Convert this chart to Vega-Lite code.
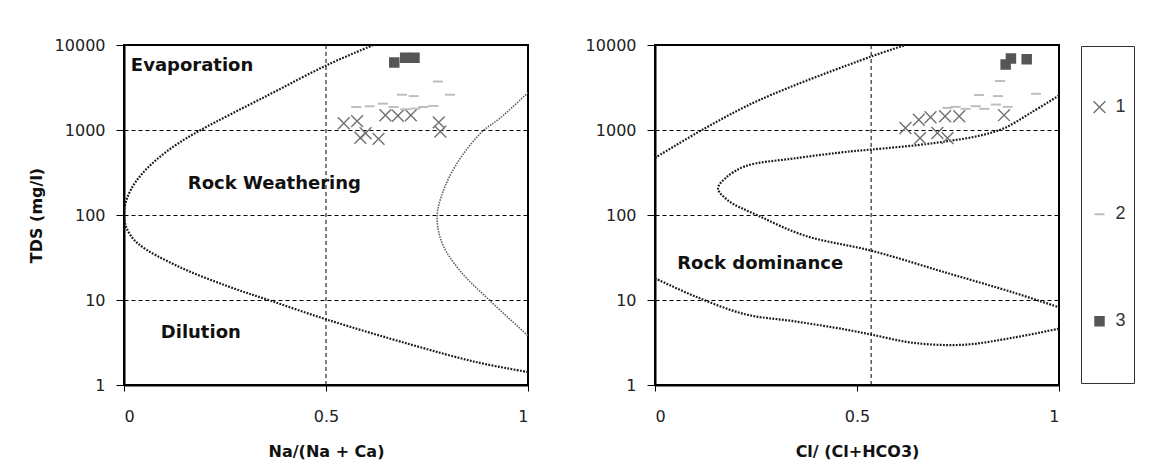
{
  "$schema": "https://vega.github.io/schema/vega-lite/v6.json",
  "padding": {"left": 27, "top": 36, "right": 5, "bottom": 5},
  "background": "white",
  "bounds": "flush",
  "spacing": 127,
  "config": {
    "view": {"stroke": "black", "strokeWidth": 2},
    "axis": {"domainColor": "black", "domainWidth": 2, "tickColor": "black", "tickWidth": 1, "labelFont": "DejaVu Sans", "labelFontSize": 16, "labelColor": "#222", "titleFont": "DejaVu Sans", "titleFontSize": 16, "titleFontWeight": "bold", "titleColor": "#111", "gridColor": "black", "gridDash": [4, 3], "gridWidth": 1, "gridOpacity": 1},
    "axisY": {"tickSize": 8, "labelPadding": 11, "titlePadding": 10},
    "axisX": {"tickSize": 6, "labelPadding": 17, "titlePadding": 19},
    "legend": {"orient": "none", "legendX": 957, "legendY": 1, "padding": 8, "clipHeight": 106.3, "rowPadding": 0, "symbolOffset": 1.5, "labelOffset": 7, "labelExpr": "datum.label + '   '", "strokeColor": "#333", "labelFont": "Liberation Sans", "labelFontSize": 18, "labelColor": "#333"}
  },
  "datasets": {
    "samples": [
      {"panel": "Na", "x": 0.544, "tds": 1200, "type": "1"},
      {"panel": "Na", "x": 0.577, "tds": 1270, "type": "1"},
      {"panel": "Na", "x": 0.598, "tds": 915, "type": "1"},
      {"panel": "Na", "x": 0.585, "tds": 810, "type": "1"},
      {"panel": "Na", "x": 0.63, "tds": 785, "type": "1"},
      {"panel": "Na", "x": 0.647, "tds": 1490, "type": "1"},
      {"panel": "Na", "x": 0.678, "tds": 1470, "type": "1"},
      {"panel": "Na", "x": 0.71, "tds": 1490, "type": "1"},
      {"panel": "Na", "x": 0.779, "tds": 1230, "type": "1"},
      {"panel": "Na", "x": 0.783, "tds": 955, "type": "1"},
      {"panel": "Na", "x": 0.575, "tds": 1865, "type": "2"},
      {"panel": "Na", "x": 0.608, "tds": 1900, "type": "2"},
      {"panel": "Na", "x": 0.641, "tds": 2040, "type": "2"},
      {"panel": "Na", "x": 0.667, "tds": 1865, "type": "2"},
      {"panel": "Na", "x": 0.688, "tds": 2600, "type": "2"},
      {"panel": "Na", "x": 0.717, "tds": 2505, "type": "2"},
      {"panel": "Na", "x": 0.696, "tds": 1755, "type": "2"},
      {"panel": "Na", "x": 0.721, "tds": 1787, "type": "2"},
      {"panel": "Na", "x": 0.741, "tds": 1865, "type": "2"},
      {"panel": "Na", "x": 0.766, "tds": 1920, "type": "2"},
      {"panel": "Na", "x": 0.777, "tds": 3715, "type": "2"},
      {"panel": "Na", "x": 0.807, "tds": 2600, "type": "2"},
      {"panel": "Na", "x": 0.669, "tds": 6220, "type": "3"},
      {"panel": "Na", "x": 0.696, "tds": 7060, "type": "3"},
      {"panel": "Na", "x": 0.719, "tds": 7060, "type": "3"},
      {"panel": "Cl", "x": 0.62, "tds": 1055, "type": "1"},
      {"panel": "Cl", "x": 0.656, "tds": 804, "type": "1"},
      {"panel": "Cl", "x": 0.682, "tds": 1413, "type": "1"},
      {"panel": "Cl", "x": 0.718, "tds": 1452, "type": "1"},
      {"panel": "Cl", "x": 0.753, "tds": 1452, "type": "1"},
      {"panel": "Cl", "x": 0.724, "tds": 804, "type": "1"},
      {"panel": "Cl", "x": 0.864, "tds": 1493, "type": "1"},
      {"panel": "Cl", "x": 0.653, "tds": 1320, "type": "1"},
      {"panel": "Cl", "x": 0.699, "tds": 922, "type": "1"},
      {"panel": "Cl", "x": 0.802, "tds": 2580, "type": "2"},
      {"panel": "Cl", "x": 0.849, "tds": 2505, "type": "2"},
      {"panel": "Cl", "x": 0.854, "tds": 3770, "type": "2"},
      {"panel": "Cl", "x": 0.943, "tds": 2667, "type": "2"},
      {"panel": "Cl", "x": 0.724, "tds": 1820, "type": "2"},
      {"panel": "Cl", "x": 0.744, "tds": 1872, "type": "2"},
      {"panel": "Cl", "x": 0.769, "tds": 1773, "type": "2"},
      {"panel": "Cl", "x": 0.794, "tds": 1906, "type": "2"},
      {"panel": "Cl", "x": 0.815, "tds": 1773, "type": "2"},
      {"panel": "Cl", "x": 0.844, "tds": 1993, "type": "2"},
      {"panel": "Cl", "x": 0.873, "tds": 1872, "type": "2"},
      {"panel": "Cl", "x": 0.868, "tds": 5880, "type": "3"},
      {"panel": "Cl", "x": 0.881, "tds": 6920, "type": "3"},
      {"panel": "Cl", "x": 0.92, "tds": 6800, "type": "3"}
    ],
    "curves": [
      {"panel": "Na", "curve": "A", "seq": 1, "x": 0.617, "tds": 10000},
      {"panel": "Na", "curve": "A", "seq": 2, "x": 0.504, "tds": 5850},
      {"panel": "Na", "curve": "A", "seq": 3, "x": 0.356, "tds": 2560},
      {"panel": "Na", "curve": "A", "seq": 4, "x": 0.19, "tds": 1000},
      {"panel": "Na", "curve": "A", "seq": 5, "x": 0.129, "tds": 670},
      {"panel": "Na", "curve": "A", "seq": 6, "x": 0.0805, "tds": 448},
      {"panel": "Na", "curve": "A", "seq": 7, "x": 0.0432, "tds": 300},
      {"panel": "Na", "curve": "A", "seq": 8, "x": 0.0173, "tds": 200},
      {"panel": "Na", "curve": "A", "seq": 9, "x": 0.0032, "tds": 134},
      {"panel": "Na", "curve": "A", "seq": 10, "x": 0.0, "tds": 100},
      {"panel": "Na", "curve": "A", "seq": 11, "x": 0.007, "tds": 69},
      {"panel": "Na", "curve": "A", "seq": 12, "x": 0.035, "tds": 46},
      {"panel": "Na", "curve": "A", "seq": 13, "x": 0.133, "tds": 25},
      {"panel": "Na", "curve": "A", "seq": 14, "x": 0.257, "tds": 14.5},
      {"panel": "Na", "curve": "A", "seq": 15, "x": 0.363, "tds": 9.8},
      {"panel": "Na", "curve": "A", "seq": 16, "x": 0.504, "tds": 5.85},
      {"panel": "Na", "curve": "A", "seq": 17, "x": 0.709, "tds": 3.0},
      {"panel": "Na", "curve": "A", "seq": 18, "x": 0.874, "tds": 1.85},
      {"panel": "Na", "curve": "A", "seq": 19, "x": 1.0, "tds": 1.42},
      {"panel": "Na", "curve": "B", "seq": 1, "x": 1.0, "tds": 2750},
      {"panel": "Na", "curve": "B", "seq": 2, "x": 0.931, "tds": 1380},
      {"panel": "Na", "curve": "B", "seq": 3, "x": 0.886, "tds": 950},
      {"panel": "Na", "curve": "B", "seq": 4, "x": 0.827, "tds": 425},
      {"panel": "Na", "curve": "B", "seq": 5, "x": 0.79, "tds": 190},
      {"panel": "Na", "curve": "B", "seq": 6, "x": 0.775, "tds": 95},
      {"panel": "Na", "curve": "B", "seq": 7, "x": 0.788, "tds": 46},
      {"panel": "Na", "curve": "B", "seq": 8, "x": 0.832, "tds": 22},
      {"panel": "Na", "curve": "B", "seq": 9, "x": 0.906, "tds": 9.8},
      {"panel": "Na", "curve": "B", "seq": 10, "x": 1.0, "tds": 3.8},
      {"panel": "Cl", "curve": "C", "seq": 1, "x": 0.0, "tds": 470},
      {"panel": "Cl", "curve": "C", "seq": 2, "x": 0.124, "tds": 1050},
      {"panel": "Cl", "curve": "C", "seq": 3, "x": 0.26, "tds": 2270},
      {"panel": "Cl", "curve": "C", "seq": 4, "x": 0.536, "tds": 7350},
      {"panel": "Cl", "curve": "C", "seq": 5, "x": 0.62, "tds": 10000},
      {"panel": "Cl", "curve": "D", "seq": 1, "x": 1.0, "tds": 2550},
      {"panel": "Cl", "curve": "D", "seq": 2, "x": 0.93, "tds": 1590},
      {"panel": "Cl", "curve": "D", "seq": 3, "x": 0.864, "tds": 1050},
      {"panel": "Cl", "curve": "D", "seq": 4, "x": 0.8, "tds": 850},
      {"panel": "Cl", "curve": "D", "seq": 5, "x": 0.725, "tds": 740},
      {"panel": "Cl", "curve": "D", "seq": 6, "x": 0.65, "tds": 665},
      {"panel": "Cl", "curve": "D", "seq": 7, "x": 0.538, "tds": 590},
      {"panel": "Cl", "curve": "D", "seq": 8, "x": 0.484, "tds": 560},
      {"panel": "Cl", "curve": "D", "seq": 9, "x": 0.347, "tds": 465},
      {"panel": "Cl", "curve": "D", "seq": 10, "x": 0.223, "tds": 374},
      {"panel": "Cl", "curve": "D", "seq": 11, "x": 0.174, "tds": 270},
      {"panel": "Cl", "curve": "D", "seq": 12, "x": 0.156, "tds": 205},
      {"panel": "Cl", "curve": "D", "seq": 13, "x": 0.181, "tds": 148},
      {"panel": "Cl", "curve": "D", "seq": 14, "x": 0.256, "tds": 98},
      {"panel": "Cl", "curve": "D", "seq": 15, "x": 0.372, "tds": 57},
      {"panel": "Cl", "curve": "D", "seq": 16, "x": 0.538, "tds": 37.8},
      {"panel": "Cl", "curve": "D", "seq": 17, "x": 0.72, "tds": 21},
      {"panel": "Cl", "curve": "D", "seq": 18, "x": 0.886, "tds": 12.3},
      {"panel": "Cl", "curve": "D", "seq": 19, "x": 1.0, "tds": 8.2},
      {"panel": "Cl", "curve": "E", "seq": 1, "x": 0.0, "tds": 18},
      {"panel": "Cl", "curve": "E", "seq": 2, "x": 0.1, "tds": 11},
      {"panel": "Cl", "curve": "E", "seq": 3, "x": 0.223, "tds": 6.8},
      {"panel": "Cl", "curve": "E", "seq": 4, "x": 0.347, "tds": 5.6},
      {"panel": "Cl", "curve": "E", "seq": 5, "x": 0.471, "tds": 4.5},
      {"panel": "Cl", "curve": "E", "seq": 6, "x": 0.538, "tds": 3.9},
      {"panel": "Cl", "curve": "E", "seq": 7, "x": 0.638, "tds": 3.14},
      {"panel": "Cl", "curve": "E", "seq": 8, "x": 0.762, "tds": 2.97},
      {"panel": "Cl", "curve": "E", "seq": 9, "x": 0.886, "tds": 3.6},
      {"panel": "Cl", "curve": "E", "seq": 10, "x": 1.0, "tds": 4.6}
    ],
    "labels": [
      {"panel": "Na", "x": 0.017, "tds": 5650, "text": "Evaporation"},
      {"panel": "Na", "x": 0.158, "tds": 234, "text": "Rock Weathering"},
      {"panel": "Na", "x": 0.091, "tds": 4.13, "text": "Dilution"},
      {"panel": "Cl", "x": 0.055, "tds": 26.7, "text": "Rock dominance"}
    ],
    "vgrid": [
      {"panel": "Na", "x": 0.5},
      {"panel": "Cl", "x": 0.535}
    ]
  },
  "hconcat": [
    {
      "width": 404,
      "height": 340,
      "layer": [
        {
          "data": {"name": "vgrid"},
          "transform": [{"filter": "datum.panel === 'Na'"}],
          "mark": {"type": "rule", "color": "black", "strokeWidth": 1, "strokeDash": [4, 3]},
          "encoding": {
            "x": {"field": "x", "type": "quantitative", "scale": {"domain": [0, 1], "nice": false, "zero": false}, "axis": {"values": [0, 0.5, 1], "format": "~g", "title": "Na/(Na + Ca)", "grid": false}}
          }
        },
        {
          "data": {"name": "curves"},
          "transform": [{"filter": "datum.panel === 'Na' && datum.curve === 'A'"}],
          "mark": {"type": "line", "interpolate": "catmull-rom", "color": "#1a1a1a", "strokeWidth": 2.2, "strokeDash": [1.8, 1.4], "clip": true},
          "encoding": {
            "x": {"field": "x", "type": "quantitative", "scale": {"domain": [0, 1], "nice": false, "zero": false}, "axis": {"values": [0, 0.5, 1], "format": "~g", "title": "Na/(Na + Ca)", "grid": false}},
            "y": {"field": "tds", "type": "quantitative", "scale": {"type": "log", "domain": [1, 10000], "nice": false}, "axis": {"values": [1, 10, 100, 1000, 10000], "format": "d", "title": "TDS (mg/l)", "grid": true}},
            "detail": {"field": "curve"},
            "order": {"field": "seq", "type": "quantitative"}
          }
        },
        {
          "data": {"name": "curves"},
          "transform": [{"filter": "datum.panel === 'Na' && datum.curve === 'B'"}],
          "mark": {"type": "line", "interpolate": "catmull-rom", "color": "#606060", "strokeWidth": 1.6, "strokeDash": [1.5, 1.2], "clip": true},
          "encoding": {
            "x": {"field": "x", "type": "quantitative", "scale": {"domain": [0, 1], "nice": false, "zero": false}, "axis": {"values": [0, 0.5, 1], "format": "~g", "title": "Na/(Na + Ca)", "grid": false}},
            "y": {"field": "tds", "type": "quantitative", "scale": {"type": "log", "domain": [1, 10000], "nice": false}, "axis": {"values": [1, 10, 100, 1000, 10000], "format": "d", "title": "TDS (mg/l)", "grid": true}},
            "detail": {"field": "curve"},
            "order": {"field": "seq", "type": "quantitative"}
          }
        },
        {
          "data": {"name": "samples"},
          "transform": [{"filter": "datum.panel === 'Na'"}],
          "mark": {"type": "point", "filled": true, "opacity": 1},
          "encoding": {
            "x": {"field": "x", "type": "quantitative", "scale": {"domain": [0, 1], "nice": false, "zero": false}, "axis": {"values": [0, 0.5, 1], "format": "~g", "title": "Na/(Na + Ca)", "grid": false}},
            "y": {"field": "tds", "type": "quantitative", "scale": {"type": "log", "domain": [1, 10000], "nice": false}, "axis": {"values": [1, 10, 100, 1000, 10000], "format": "d", "title": "TDS (mg/l)", "grid": true}},
            "shape": {"field": "type", "type": "nominal", "title": null, "scale": {"domain": ["1", "2", "3"], "range": ["M-1,-1L1,1M-1,1L1,-1", "M-1,0L1,0", "square"]}},
            "fill": {"field": "type", "type": "nominal", "title": null, "scale": {"domain": ["1", "2", "3"], "range": ["#707070", "#bdbdbd", "#565656"]}},
            "stroke": {"field": "type", "type": "nominal", "title": null, "scale": {"domain": ["1", "2", "3"], "range": ["#707070", "#bdbdbd", "#565656"]}},
            "size": {"field": "type", "type": "ordinal", "title": null, "scale": {"domain": ["1", "2", "3"], "range": [140, 64, 90]}},
            "strokeWidth": {"field": "type", "type": "ordinal", "title": null, "scale": {"domain": ["1", "2", "3"], "range": [1.4, 2.5, 1]}}
          }
        },
        {
          "data": {"name": "labels"},
          "transform": [{"filter": "datum.panel === 'Na'"}],
          "mark": {"type": "text", "align": "left", "baseline": "middle", "font": "DejaVu Sans", "fontWeight": "bold", "fontSize": 18, "color": "#111"},
          "encoding": {
            "x": {"field": "x", "type": "quantitative", "scale": {"domain": [0, 1], "nice": false, "zero": false}, "axis": {"values": [0, 0.5, 1], "format": "~g", "title": "Na/(Na + Ca)", "grid": false}},
            "y": {"field": "tds", "type": "quantitative", "scale": {"type": "log", "domain": [1, 10000], "nice": false}, "axis": {"values": [1, 10, 100, 1000, 10000], "format": "d", "title": "TDS (mg/l)", "grid": true}},
            "text": {"field": "text"}
          }
        }
      ]
    },
    {
      "width": 404,
      "height": 340,
      "layer": [
        {
          "data": {"name": "vgrid"},
          "transform": [{"filter": "datum.panel === 'Cl'"}],
          "mark": {"type": "rule", "color": "black", "strokeWidth": 1, "strokeDash": [4, 3]},
          "encoding": {
            "x": {"field": "x", "type": "quantitative", "scale": {"domain": [0, 1], "nice": false, "zero": false}, "axis": {"values": [0, 0.5, 1], "format": "~g", "title": "Cl/ (Cl+HCO3)", "grid": false}}
          }
        },
        {
          "data": {"name": "curves"},
          "transform": [{"filter": "datum.panel === 'Cl'"}],
          "mark": {"type": "line", "interpolate": "catmull-rom", "color": "#1a1a1a", "strokeWidth": 2.2, "strokeDash": [1.8, 1.4], "clip": true},
          "encoding": {
            "x": {"field": "x", "type": "quantitative", "scale": {"domain": [0, 1], "nice": false, "zero": false}, "axis": {"values": [0, 0.5, 1], "format": "~g", "title": "Cl/ (Cl+HCO3)", "grid": false}},
            "y": {"field": "tds", "type": "quantitative", "scale": {"type": "log", "domain": [1, 10000], "nice": false}, "axis": {"values": [1, 10, 100, 1000, 10000], "format": "d", "title": null, "grid": true}},
            "detail": {"field": "curve"},
            "order": {"field": "seq", "type": "quantitative"}
          }
        },
        {
          "data": {"name": "samples"},
          "transform": [{"filter": "datum.panel === 'Cl'"}],
          "mark": {"type": "point", "filled": true, "opacity": 1},
          "encoding": {
            "x": {"field": "x", "type": "quantitative", "scale": {"domain": [0, 1], "nice": false, "zero": false}, "axis": {"values": [0, 0.5, 1], "format": "~g", "title": "Cl/ (Cl+HCO3)", "grid": false}},
            "y": {"field": "tds", "type": "quantitative", "scale": {"type": "log", "domain": [1, 10000], "nice": false}, "axis": {"values": [1, 10, 100, 1000, 10000], "format": "d", "title": null, "grid": true}},
            "shape": {"field": "type", "type": "nominal", "title": null, "scale": {"domain": ["1", "2", "3"], "range": ["M-1,-1L1,1M-1,1L1,-1", "M-1,0L1,0", "square"]}},
            "fill": {"field": "type", "type": "nominal", "title": null, "scale": {"domain": ["1", "2", "3"], "range": ["#707070", "#bdbdbd", "#565656"]}},
            "stroke": {"field": "type", "type": "nominal", "title": null, "scale": {"domain": ["1", "2", "3"], "range": ["#707070", "#bdbdbd", "#565656"]}},
            "size": {"field": "type", "type": "ordinal", "title": null, "scale": {"domain": ["1", "2", "3"], "range": [140, 64, 90]}},
            "strokeWidth": {"field": "type", "type": "ordinal", "title": null, "scale": {"domain": ["1", "2", "3"], "range": [1.4, 2.5, 1]}}
          }
        },
        {
          "data": {"name": "labels"},
          "transform": [{"filter": "datum.panel === 'Cl'"}],
          "mark": {"type": "text", "align": "left", "baseline": "middle", "font": "DejaVu Sans", "fontWeight": "bold", "fontSize": 18, "color": "#111"},
          "encoding": {
            "x": {"field": "x", "type": "quantitative", "scale": {"domain": [0, 1], "nice": false, "zero": false}, "axis": {"values": [0, 0.5, 1], "format": "~g", "title": "Cl/ (Cl+HCO3)", "grid": false}},
            "y": {"field": "tds", "type": "quantitative", "scale": {"type": "log", "domain": [1, 10000], "nice": false}, "axis": {"values": [1, 10, 100, 1000, 10000], "format": "d", "title": null, "grid": true}},
            "text": {"field": "text"}
          }
        }
      ]
    }
  ]
}
